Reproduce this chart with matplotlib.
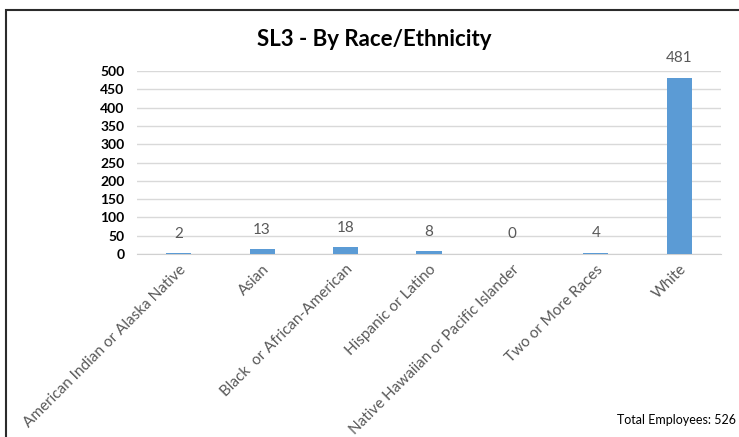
import matplotlib
matplotlib.use("Agg")
import matplotlib.pyplot as plt
from matplotlib.patches import Rectangle

categories = [
    "American Indian or Alaska Native",
    "Asian",
    "Black  or African-American",
    "Hispanic or Latino",
    "Native Hawaiian or Pacific Islander",
    "Two or More Races",
    "White",
]
counts = [2, 13, 18, 8, 0, 4, 481]
y_ticks = [0, 50, 100, 150, 200, 250, 300, 350, 400, 450, 500]
title = "SL3 - By Race/Ethnicity"
footer = "Total Employees: 526"

plt.rcParams["font.family"] = ["Lato", "DejaVu Sans"]

W, H = 739, 437
fig = plt.figure(figsize=(W / 100, H / 100), dpi=100)
fig.patch.set_facecolor("white")

# outer frame (top and left edges visible)
fig.add_artist(Rectangle((5.5 / W, -0.1), 1.2, 1 - 10.5 / H + 0.1,
                         transform=fig.transFigure, fill=False,
                         edgecolor="#2b2b2b", linewidth=1.5))

ax = fig.add_axes([137 / W, 1 - 254 / H, (721 - 137) / W, (254 - 71) / H])
x = list(range(len(categories)))
bars = ax.bar(x, counts, width=0.3, color="#5b9bd5", zorder=3)

ax.set_xlim(-0.5, len(categories) - 0.5)
ax.set_ylim(0, 500)
ax.set_yticks(y_ticks)
ax.set_yticklabels([str(v) for v in y_ticks], fontsize=10, fontweight="bold",
                   color="#000000")
ax.grid(axis="y", color="#d9d9d9", linewidth=1, zorder=0)
for s in ["top", "right", "left"]:
    ax.spines[s].set_visible(False)
ax.spines["bottom"].set_color("#d0d0d0")
ax.tick_params(axis="both", length=0)
ax.tick_params(axis="y", pad=9)

ax.set_xticks(x)
ax.set_xticklabels(categories, rotation=45, ha="right", rotation_mode="anchor",
                   fontsize=11, color="#595959")
ax.tick_params(axis="x", pad=6)

for xi, v in zip(x, counts):
    ax.annotate(str(v), (xi, v), xytext=(0, 9), textcoords="offset points",
                ha="center", va="bottom", fontsize=11, color="#595959")

fig.text(374 / W, 1 - 40 / H, title, ha="center", va="center",
         fontsize=16, fontweight="bold", color="#000000")
fig.text(736 / W, 1 - 420 / H, footer, ha="right", va="center",
         fontsize=9, color="#000000")

fig.savefig("out.png", dpi=100)
